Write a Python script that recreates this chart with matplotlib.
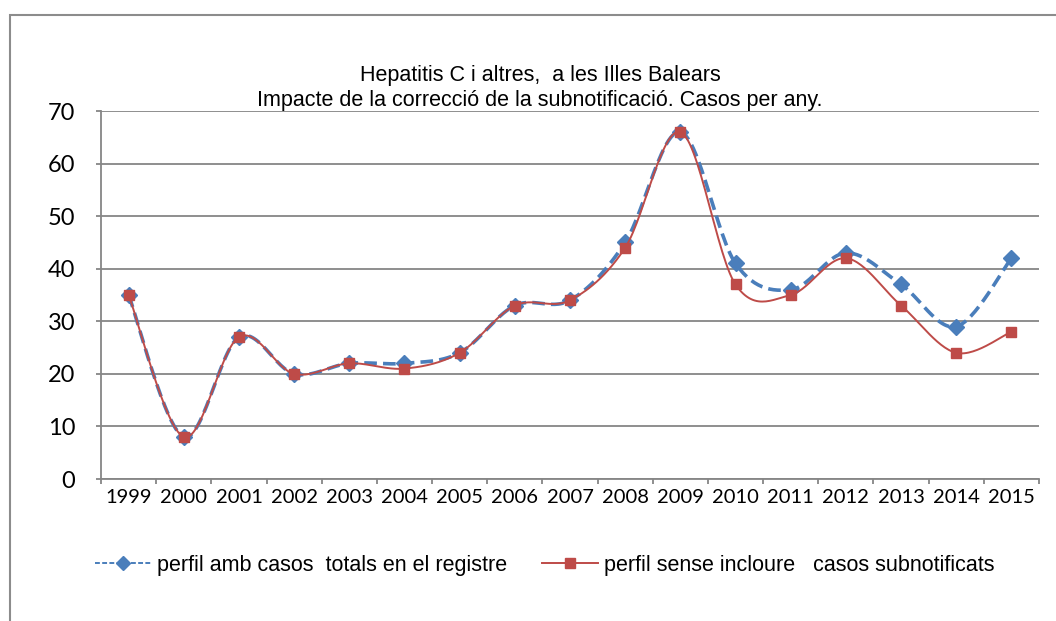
import numpy as np
import matplotlib
matplotlib.use('Agg')
import matplotlib.pyplot as plt
from matplotlib.patches import Rectangle
from matplotlib.lines import Line2D

# data
years = ['1999', '2000', '2001', '2002', '2003', '2004', '2005', '2006', '2007',
         '2008', '2009', '2010', '2011', '2012', '2013', '2014', '2015']
totals = [35, 8, 27, 20, 22, 22, 24, 33, 34, 45, 66, 41, 36, 43, 37, 29, 42]
sense_sub = [35, 8, 27, 20, 22, 21, 24, 33, 34, 44, 66, 37, 35, 42, 33, 24, 28]
yticks = [0, 10, 20, 30, 40, 50, 60, 70]

title = 'Hepatitis C i altres,  a les Illes Balears\nImpacte de la correcció de la subnotificació. Casos per any.'
lab_blue = 'perfil amb casos  totals en el registre'
lab_red = 'perfil sense incloure   casos subnotificats'

BLUE = '#4A7EBB'
RED = '#BE4B48'
GRID = '#868686'


def smooth(x, y, n=30):
    # excel-like smoothed line (catmull-rom as cubic bezier)
    x = np.asarray(x, float); y = np.asarray(y, float)
    px = np.concatenate([[x[0]], x, [x[-1]]])
    py = np.concatenate([[y[0]], y, [y[-1]]])
    xs, ys = [], []
    t = np.linspace(0, 1, n)
    for i in range(1, len(px) - 2):
        p0 = np.array([px[i], py[i]])
        p3 = np.array([px[i + 1], py[i + 1]])
        c1 = p0 + (np.array([px[i + 1], py[i + 1]]) - np.array([px[i - 1], py[i - 1]])) / 6
        c2 = p3 - (np.array([px[i + 2], py[i + 2]]) - np.array([px[i], py[i]])) / 6
        b = ((1 - t) ** 3)[:, None] * p0 + (3 * (1 - t) ** 2 * t)[:, None] * c1 \
            + (3 * (1 - t) * t ** 2)[:, None] * c2 + (t ** 3)[:, None] * p3
        xs.append(b[:, 0]); ys.append(b[:, 1])
    return np.concatenate(xs), np.concatenate(ys)


fig = plt.figure(figsize=(10.56, 6.21), dpi=100)
W, H = 1056, 621
ax = fig.add_axes([101 / W, 1 - 479 / H, (1039 - 101) / W, (479 - 111) / H])

# outer chart border
fig.patches.append(Rectangle((10 / W, -0.1), 1.2, 1 - 15 / H + 0.1, transform=fig.transFigure,
                             fill=False, edgecolor='#8c8c8c', linewidth=1.5))

x = np.arange(len(years))
sx, sy = smooth(x, totals)
ax.plot(sx, sy, color=BLUE, linewidth=2.6, linestyle=(0, (3.5, 1.7)), zorder=3)
ax.plot(x, totals, linestyle='none', marker='D', markersize=8, color=BLUE, zorder=4)
rx, ry = smooth(x, sense_sub)
ax.plot(rx, ry, color=RED, linewidth=1.4, zorder=5)
ax.plot(x, sense_sub, linestyle='none', marker='s', markersize=7, color=RED, zorder=6)

ax.set_xlim(-0.5, len(years) - 0.5)
ax.set_ylim(0, 70)
ax.set_yticks(yticks)
ax.set_yticklabels([str(v) for v in yticks], fontsize=17, family='Lato')
ax.yaxis.grid(True, color=GRID, linewidth=1.3)
ax.set_axisbelow(True)
ax.set_xticks(np.arange(-0.5, len(years), 1.0))
ax.set_xticklabels([])
ax.set_xticks(x, minor=True)
ax.set_xticklabels(years, minor=True, fontsize=14.5, family='Lato')
ax.tick_params(axis='x', which='minor', length=0, pad=7)
ax.tick_params(axis='x', which='major', length=3.6, color=GRID, width=1.3)
ax.tick_params(axis='y', length=3.6, color=GRID, width=1.3, pad=15)
for s in ['top', 'right']:
    ax.spines[s].set_visible(False)
for s in ['left', 'bottom']:
    ax.spines[s].set_color(GRID)
    ax.spines[s].set_linewidth(1.3)

fig.text(540 / W, 1 - 88 / H, title, ha='center', va='center', fontsize=15.5,
         family='Liberation Sans', linespacing=1.25)

handles = [Line2D([], [], color=BLUE, linewidth=1.4, linestyle=(0, (2.5, 1.2)), marker='D', markersize=7),
           Line2D([], [], color=RED, linewidth=1.4, marker='s', markersize=7)]
fig.legend(handles, [lab_blue, lab_red], loc='center', bbox_to_anchor=(545 / W, 1 - 565 / H),
           ncol=2, frameon=False, handlelength=2.6, columnspacing=1.6, handletextpad=0.3,
           prop={'family': 'Liberation Sans', 'size': 15.5})

plt.savefig('out.png', dpi=100)
